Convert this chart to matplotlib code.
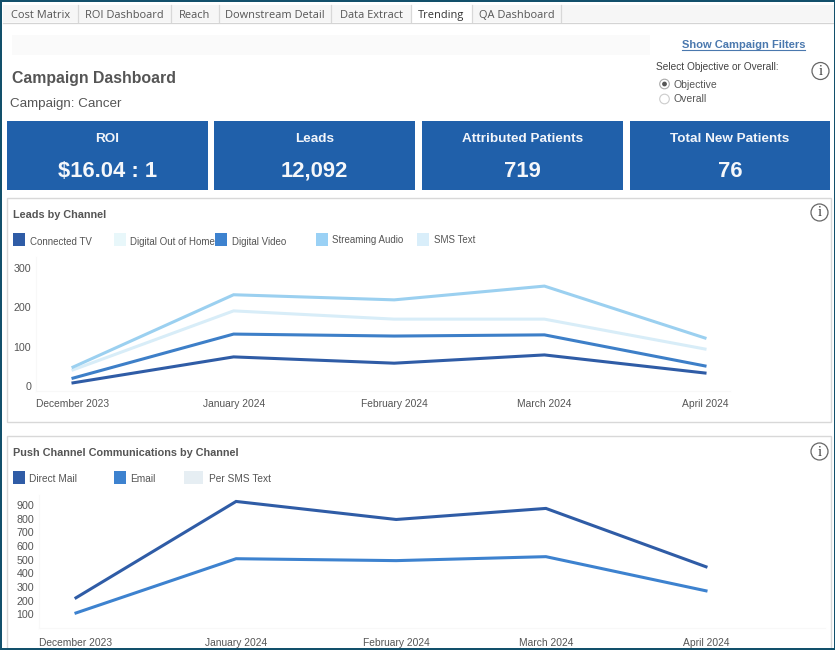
import datetime as dt
import matplotlib
matplotlib.use('Agg')
from matplotlib import pyplot as plt
from matplotlib.patches import Rectangle, Circle
import matplotlib.dates as mdates

plt.rcParams['font.family'] = ['Liberation Sans', 'DejaVu Sans']

W, H = 835, 650
GREY = '#555555'
BLUE = '#2060AA'

months = [dt.date(2023, 12, 1), dt.date(2024, 1, 1), dt.date(2024, 2, 1), dt.date(2024, 3, 1), dt.date(2024, 4, 1)]
month_labels = ['December 2023', 'January 2024', 'February 2024', 'March 2024', 'April 2024']

# leads by channel
connected_tv = [8, 74, 58, 79, 33]
digital_video = [20, 132, 127, 130, 51]
sms_text = [41, 191, 170, 170, 94]
streaming_audio = [48, 232, 219, 254, 122]
leads_ticks = [0, 100, 200, 300]

# push channel communications
direct_mail = [221, 926, 794, 875, 448]
email = [110, 507, 493, 522, 272]
push_ticks = [100, 200, 300, 400, 500, 600, 700, 800, 900]

tab_names = ['Cost Matrix', 'ROI Dashboard', 'Reach', 'Downstream Detail', 'Data Extract', 'Trending', 'QA Dashboard']
tab_edges = [3, 78, 171, 219, 331, 411, 472, 561]

kpi_names = ['ROI', 'Leads', 'Attributed Patients', 'Total New Patients']
kpi_values = ['$16.04 : 1', '12,092', '719', '76']
kpi_edges = [(7, 208), (214, 415), (422, 623), (630, 830)]

leads_legend = ['Connected TV', 'Digital Out of Home', 'Digital Video', 'Streaming Audio', 'SMS Text']
leads_colors = ['#2F5CA6', '#E8F7FA', '#3D82CF', '#9AD1F5', '#D9EEFA']
leads_swatch_x = [13, 114, 215, 316, 417]
leads_text_x = [30, 130, 232, 332, 434]
leads_text_y = [242, 242, 242, 240, 240]

push_legend = ['Direct Mail', 'Email', 'Per SMS Text']
push_colors = ['#2F5CA6', '#3D82CF', '#E6EEF3']
push_swatch_x = [13, 114, 184]
push_swatch_w = [12, 12, 19]
push_text_x = [29, 130, 209]


def px_axes(fig, left, right, top, bottom):
    return fig.add_axes([left / W, 1 - bottom / H, (right - left) / W, (bottom - top) / H])


def info_icon(ax, x, y, r=8.5):
    ax.add_patch(Circle((x, y), r, fill=False, ec='#666666', lw=0.9))
    ax.text(x, y + 0.5, 'i', ha='center', va='center', fontsize=10.5, color='#333333',
            family='Liberation Serif')


def draw_chart(fig, box, series, colors, ticks, ymax, pad_y, tick_size=7.4):
    ax = px_axes(fig, *box)
    ax.patch.set_alpha(0)
    for vals, c in zip(series, colors):
        ax.plot(months, vals, color=c, lw=2.2, clip_on=False, solid_joinstyle='miter')
    ax.set_xlim(months[0], months[-1])
    ax.set_ylim(0, ymax)
    ax.set_xticks([mdates.date2num(m) for m in months])
    ax.set_xticklabels(month_labels)
    ax.set_yticks(ticks)
    for s in ax.spines.values():
        s.set_visible(False)
    ax.tick_params(axis='x', length=0, pad=pad_y, labelsize=tick_size, labelcolor=GREY)
    ax.tick_params(axis='y', length=0, pad=30, labelsize=tick_size + 0.3, labelcolor=GREY)
    return ax


fig = plt.figure(figsize=(W / 100, H / 100), dpi=100, facecolor='white')
bg = fig.add_axes([0, 0, 1, 1])
bg.set_xlim(0, W)
bg.set_ylim(H, 0)
bg.axis('off')

# tab bar
bg.add_patch(Rectangle((3, 5), W - 3, 17, fc='#F6F6F6', ec='none'))
bg.plot([3, W], [22.5, 22.5], color='#D4D4D4', lw=0.9)
for i, name in enumerate(tab_names):
    l, r = tab_edges[i], tab_edges[i + 1]
    if name == 'Trending':
        bg.add_patch(Rectangle((l, 5), r - l, 18, fc='white', ec='none', zorder=2))
    bg.plot([r, r], [5, 22], color='#D8D8D8', lw=0.9, zorder=3)
    bg.text((l + r) / 2, 15.5, name, ha='center', va='center', fontsize=7.9, family='Open Sans',
            color='#333333' if name == 'Trending' else '#555555', zorder=4)

# header
bg.add_patch(Rectangle((12, 35), 638, 20, fc='#FAFAFA', ec='none'))
bg.text(12, 78.5, 'Campaign Dashboard', fontsize=11.4, fontweight='bold', color='#555555', va='center')
bg.text(10, 103.5, 'Campaign: Cancer', fontsize=9.6, color='#555555', va='center')
bg.text(743.5, 44.5, 'Show Campaign Filters', ha='center', va='center', fontsize=8.05, fontweight='bold', color='#4A78AE')
bg.plot([682, 805], [50, 50], color='#4A78AE', lw=0.8)
bg.text(656, 67.5, 'Select Objective or Overall:', fontsize=7.25, color='#444444', va='center')
bg.text(674, 84.5, 'Objective', fontsize=7.5, color='#555555', va='center')
bg.text(674, 99.5, 'Overall', fontsize=7.5, color='#555555', va='center')
bg.add_patch(Circle((664.5, 84), 4.8, fc='white', ec='#AAAAAA', lw=0.8))
bg.add_patch(Circle((664.5, 84), 2.4, fc='#555555', ec='none'))
bg.add_patch(Circle((664.5, 99), 4.8, fc='white', ec='#CCCCCC', lw=0.8))
info_icon(bg, 820.5, 71)

# kpi tiles
for (l, r), name, value in zip(kpi_edges, kpi_names, kpi_values):
    bg.add_patch(Rectangle((l, 121), r - l, 69, fc=BLUE, ec='none'))
    bg.text((l + r) / 2, 141.5, name, ha='center', va='baseline', fontsize=9.7, fontweight='bold', color='#F2F5FA')
    bg.text((l + r) / 2, 177, value, ha='center', va='baseline', fontsize=15.8, fontweight='bold', color='#F5F7FA')

# chart panels
bg.add_patch(Rectangle((7, 197.5), 824, 224, fc='white', ec='#D8D8D8', lw=1))
bg.add_patch(Rectangle((7, 435.5), 824, 220, fc='white', ec='#D8D8D8', lw=1))
bg.text(13, 214.5, 'Leads by Channel', fontsize=7.8, fontweight='bold', color='#555555', va='center')
bg.text(13, 452.5, 'Push Channel Communications by Channel', fontsize=7.8, fontweight='bold', color='#555555', va='center')
info_icon(bg, 819.5, 212.5)
info_icon(bg, 819.5, 451.5)

for name, c, sx, tx, ty in zip(leads_legend, leads_colors, leads_swatch_x, leads_text_x, leads_text_y):
    bg.add_patch(Rectangle((sx, 233), 12, 13, fc=c, ec='none'))
    bg.text(tx, ty, name, fontsize=7.0, color=GREY, va='center')
for name, c, sx, sw, tx in zip(push_legend, push_colors, push_swatch_x, push_swatch_w, push_text_x):
    bg.add_patch(Rectangle((sx, 471), sw, 13, fc=c, ec='none'))
    bg.text(tx, 478.5, name, fontsize=7.3, color=GREY, va='center')

# faint axis rules
bg.plot([36, 36], [257, 391], color='#F8F8F8', lw=0.8)
bg.plot([36, 730], [391, 391], color='#F8F8F8', lw=0.8)
bg.plot([39, 39], [495, 628], color='#F8F8F8', lw=0.8)
bg.plot([39, 825], [628, 628], color='#F8F8F8', lw=0.8)

draw_chart(fig, (73, 705, 268, 386), [connected_tv, digital_video, sms_text, streaming_audio],
           ['#2F5CA6', '#3D7FC8', '#D8EDF8', '#9BD0F0'], leads_ticks, 300, 9.5)
draw_chart(fig, (76, 706, 505, 628), [direct_mail, email], ['#2F5CA6', '#3D82CF'], push_ticks, 900, 7)

# window border
top = fig.add_axes([0, 0, 1, 1])
top.set_xlim(0, W)
top.set_ylim(H, 0)
top.axis('off')
top.patch.set_alpha(0)
border = '#12506B'
top.add_patch(Rectangle((0, 0), W, 1.5, fc=border, ec='none'))
top.add_patch(Rectangle((0, 0), 1.5, H, fc=border, ec='none'))
top.add_patch(Rectangle((W - 1.5, 0), 1.5, H, fc=border, ec='none'))
top.add_patch(Rectangle((0, H - 2), W, 2, fc=border, ec='none'))

fig.savefig('out.png', dpi=100)
